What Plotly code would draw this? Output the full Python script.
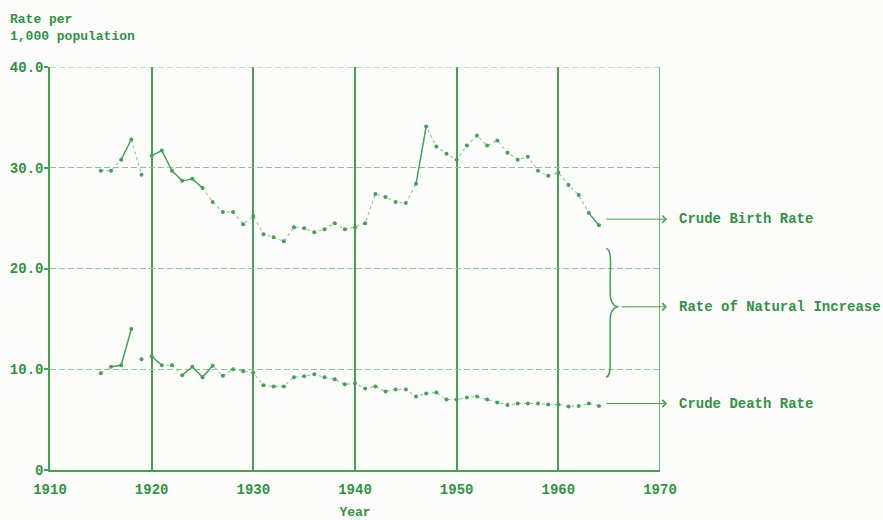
import plotly.graph_objects as go

years = list(range(1915, 1965))
birth_rate = [29.7, 29.7, 30.8, 32.8, 29.3, 31.2, 31.7, 29.7, 28.7, 28.9,
              28.0, 26.6, 25.6, 25.6, 24.4, 25.2, 23.4, 23.1, 22.7, 24.1,
              24.0, 23.6, 23.9, 24.5, 23.9, 24.1, 24.5, 27.4, 27.1, 26.6,
              26.5, 28.4, 34.1, 32.1, 31.4, 30.8, 32.2, 33.2, 32.2, 32.7,
              31.5, 30.8, 31.1, 29.7, 29.2, 29.5, 28.3, 27.3, 25.5, 24.3]
death_rate = [9.6, 10.25, 10.4, 14.0, 11.0, 11.3, 10.4, 10.4, 9.4, 10.25,
              9.2, 10.35, 9.35, 10.0, 9.8, 9.65, 8.4, 8.3, 8.3, 9.2,
              9.3, 9.5, 9.2, 9.0, 8.5, 8.6, 8.1, 8.3, 7.8, 8.0,
              8.0, 7.3, 7.6, 7.7, 7.0, 7.0, 7.2, 7.3, 7.0, 6.7,
              6.45, 6.6, 6.6, 6.6, 6.5, 6.5, 6.3, 6.35, 6.6, 6.35]
# segments (start year) that are not drawn in the original
birth_breaks = [1919]
death_breaks = [1918, 1919]
# segments (start year) drawn as solid strokes
birth_solid = [1917, 1920, 1921, 1922, 1923, 1924, 1946, 1963]
death_solid = [1916, 1917, 1920, 1923, 1924, 1925]

y_ticks = [0, 10, 20, 30, 40]
y_tick_labels = ["0", "10.0", "20.0", "30.0", "40.0"]
x_ticks = [1910, 1920, 1930, 1940, 1950, 1960, 1970]

labels = ["Crude Birth Rate", "Rate of Natural Increase", "Crude Death Rate"]
label_y = [24.9, 16.2, 6.6]

GREEN = "#42a352"
LIGHT = "#8cc795"
TXT = "#2f9443"
FONT = "Liberation Mono"
BG = "#fcfdfa"


def with_breaks(xs, ys, breaks):
    ox, oy = [], []
    for x, y in zip(xs, ys):
        ox.append(x)
        oy.append(y)
        if x in breaks:
            ox.append(None)
            oy.append(None)
    return ox, oy


def solid_segments(xs, ys, starts):
    ox, oy = [], []
    for s in starts:
        i = xs.index(s)
        ox += [xs[i], xs[i + 1], None]
        oy += [ys[i], ys[i + 1], None]
    return ox, oy


fig = go.Figure()
for series, brk, sol in [(birth_rate, birth_breaks, birth_solid),
                         (death_rate, death_breaks, death_solid)]:
    bx, by = with_breaks(years, series, brk)
    fig.add_trace(go.Scatter(x=bx, y=by, mode="lines+markers",
                             line=dict(color=LIGHT, width=1.1, dash="dot"),
                             marker=dict(color=GREEN, size=4),
                             connectgaps=False, showlegend=False,
                             hoverinfo="skip"))
    sx, sy = solid_segments(years, series, sol)
    fig.add_trace(go.Scatter(x=sx, y=sy, mode="lines",
                             line=dict(color=GREEN, width=1.4),
                             showlegend=False, hoverinfo="skip"))

# frame pieces: dashed top, solid right edge
fig.add_shape(type="line", x0=1910, x1=1970, y0=40, y1=40, xref="x", yref="y",
              line=dict(color=LIGHT, width=1.2, dash="6px,3px"))
fig.add_shape(type="line", x0=1970, x1=1970, y0=0, y1=40, xref="x", yref="y",
              line=dict(color=GREEN, width=1.5))

# brace for rate of natural increase
brace = ("M 1964.7,22.0 C 1965.3,21.8 1965.1,20.5 1965.1,19.0 "
         "L 1965.1,17.5 C 1965.1,16.6 1965.5,16.3 1965.8,16.2 "
         "C 1965.5,16.1 1965.1,15.8 1965.1,14.9 "
         "L 1965.1,10.5 C 1965.1,9.6 1965.0,9.3 1964.7,9.2")
fig.add_shape(type="path", path=brace, xref="x", yref="y",
              line=dict(color=GREEN, width=1.5))

# arrows to labels (head just right of the 1970 edge)
head_x = (667 - 50) / 610
tail_dx = [-62, -47, -62]
for yv, txt, dx in zip(label_y, labels, tail_dx):
    fig.add_annotation(x=head_x, y=yv, ax=dx, ay=0,
                       xref="paper", yref="y", axref="pixel", ayref="pixel",
                       text="", showarrow=True,
                       arrowhead=4, arrowsize=1.4, arrowwidth=1,
                       arrowcolor=GREEN)
    fig.add_annotation(x=(677 - 50) / 610, y=yv, xref="paper", yref="y",
                       text="<b>" + txt + "</b>",
                       showarrow=False, xanchor="left", yanchor="middle",
                       font=dict(family=FONT, size=14, color=TXT))

fig.add_annotation(x=(8 - 50) / 610, y=(470 - 10) / 403, xref="paper",
                   yref="paper", text="<b>Rate per<br>1,000 population</b>",
                   showarrow=False, xanchor="left", yanchor="top", align="left",
                   font=dict(family=FONT, size=13, color=TXT))

fig.update_layout(
    width=883, height=520,
    margin=dict(l=50, r=223, t=67, b=50, autoexpand=False),
    paper_bgcolor=BG, plot_bgcolor=BG,
    font=dict(family=FONT, size=14, color=TXT),
    xaxis=dict(range=[1910, 1970], tickvals=x_ticks,
               ticktext=[str(v) for v in x_ticks],
               showgrid=True, gridcolor=GREEN, gridwidth=1.5,
               showline=True, linecolor=GREEN, linewidth=1.5,
               ticks="", zeroline=False, automargin=False,
               ticklabelstandoff=5,
               tickfont=dict(family=FONT, size=14, color=TXT, weight="bold"),
               title=dict(text="<b>Year</b>", standoff=14,
                          font=dict(family=FONT, size=13, color=TXT))),
    yaxis=dict(range=[0, 40], tickvals=y_ticks, ticktext=y_tick_labels,
               showgrid=True, gridcolor=LIGHT, gridwidth=1.2,
               griddash="6px,3px",
               showline=True, linecolor=GREEN, linewidth=1.5,
               ticks="outside", ticklen=4, tickcolor=GREEN, tickwidth=1.5,
               zeroline=False, automargin=False, ticklabelstandoff=-2,
               tickfont=dict(family=FONT, size=14, color=TXT, weight="bold")),
)

fig.write_html("out.html", config={"displayModeBar": False},
               post_script="document.body.style.margin='0';"
                           "document.body.style.overflow='hidden';")
